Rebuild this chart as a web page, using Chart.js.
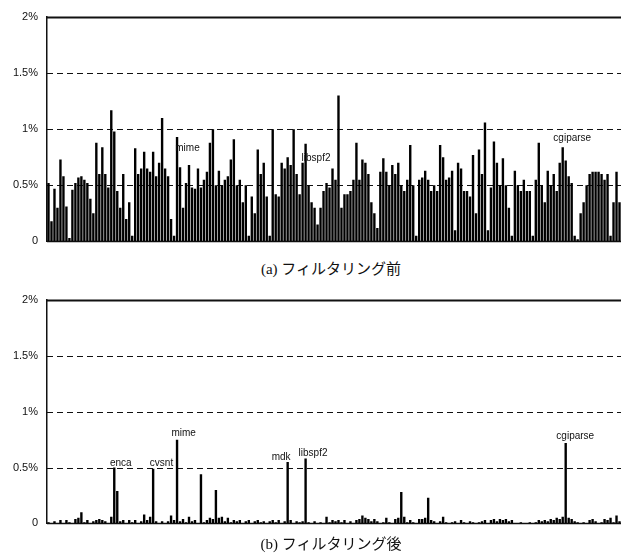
<!DOCTYPE html>
<html>
<head>
<meta charset="utf-8">
<script src="https://cdn.jsdelivr.net/npm/chart.js@4.4.0/dist/chart.umd.min.js"></script>
<style>
  body { margin: 0; background: #fff; width: 621px; height: 555px; position: relative; overflow: hidden; }
  .box { position: absolute; left: 0; width: 621px; }
  .cap { position: absolute; left: 0; width: 662px; text-align: center;
         font-family: "Liberation Serif", "Noto Sans CJK JP", serif; font-size: 15px; color: #111; }
</style>
</head>
<body>
<div class="box" style="top:0"><canvas id="chartA" width="621" height="257"></canvas></div>
<div class="cap" style="top:257px">(a) フィルタリング前</div>
<div class="box" style="top:283px"><canvas id="chartB" width="621" height="256"></canvas></div>
<div class="cap" style="top:532px">(b) フィルタリング後</div>
<script>
// y ticks (percent)
var tickValues = [0, 0.5, 1, 1.5, 2];
var tickLabels = ['0', '0.5%', '1%', '1.5%', '2%'];

// share of each package (%), before filtering
var before = [
  0.52, 0.18, 0.47, 0.30, 0.73, 0.58, 0.31, 0.03, 0.46, 0.52,
  0.57, 0.58, 0.55, 0.52, 0.38, 0.25, 0.88, 0.60, 0.84, 0.60,
  0.48, 1.17, 0.98, 0.45, 0.30, 0.60, 0.20, 0.35, 0.05, 0.83,
  0.60, 0.65, 0.80, 0.65, 0.62, 0.80, 0.58, 0.70, 1.10, 0.65,
  0.58, 0.20, 0.05, 0.93, 0.66, 0.30, 0.52, 0.68, 0.48, 0.47,
  0.65, 0.48, 0.55, 0.62, 0.88, 1.00, 0.50, 0.63, 0.50, 0.55,
  0.58, 0.73, 0.91, 0.50, 0.55, 0.35, 0.50, 0.05, 0.40, 0.25,
  0.82, 0.60, 0.70, 0.40, 0.05, 1.00, 0.42, 0.40, 0.70, 0.65,
  0.75, 0.68, 1.00, 0.60, 0.42, 0.70, 0.87, 0.50, 0.35, 0.30,
  0.15, 0.30, 0.45, 0.52, 0.48, 0.65, 0.55, 1.30, 0.30, 0.42,
  0.42, 0.45, 0.55, 0.88, 0.55, 0.73, 0.70, 0.60, 0.35, 0.25,
  0.12, 0.62, 0.74, 0.62, 0.50, 0.68, 0.60, 0.70, 0.50, 0.45,
  0.55, 0.86, 0.50, 0.05, 0.55, 0.57, 0.63, 0.55, 0.45, 0.50,
  0.45, 0.86, 0.75, 0.55, 0.57, 0.63, 0.10, 0.70, 0.65, 0.45,
  0.45, 0.40, 0.77, 0.25, 0.82, 0.60, 1.06, 0.10, 0.48, 0.89,
  0.70, 0.50, 0.74, 0.50, 0.30, 0.05, 0.63, 0.50, 0.45, 0.55,
  0.45, 0.45, 0.05, 0.55, 0.88, 0.50, 0.35, 0.63, 0.50, 0.60,
  0.45, 0.70, 0.84, 0.72, 0.58, 0.52, 0.05, 0.02, 0.25, 0.35,
  0.50, 0.60, 0.62, 0.62, 0.62, 0.60, 0.55, 0.60, 0.05, 0.35,
  0.62, 0.35
];

// share of each package (%), after filtering
var after = [
  0.01, 0.00, 0.02, 0.00, 0.03, 0.00, 0.03, 0.01, 0.00, 0.04,
  0.05, 0.10, 0.01, 0.03, 0.00, 0.02, 0.03, 0.04, 0.03, 0.02,
  0.00, 0.06, 0.50, 0.29, 0.02, 0.03, 0.00, 0.03, 0.01, 0.03,
  0.00, 0.02, 0.08, 0.03, 0.06, 0.49, 0.02, 0.00, 0.02, 0.00,
  0.02, 0.07, 0.03, 0.75, 0.02, 0.04, 0.01, 0.06, 0.02, 0.03,
  0.00, 0.44, 0.01, 0.03, 0.05, 0.04, 0.30, 0.05, 0.06, 0.02,
  0.05, 0.01, 0.03, 0.02, 0.03, 0.00, 0.02, 0.03, 0.00, 0.02,
  0.03, 0.01, 0.02, 0.00, 0.02, 0.03, 0.01, 0.03, 0.00, 0.02,
  0.55, 0.03, 0.00, 0.02, 0.01, 0.02, 0.58, 0.01, 0.00, 0.02,
  0.00, 0.01, 0.00, 0.06, 0.01, 0.03, 0.02, 0.03, 0.01, 0.03,
  0.00, 0.02, 0.00, 0.03, 0.04, 0.07, 0.05, 0.04, 0.02, 0.04,
  0.02, 0.00, 0.01, 0.05, 0.01, 0.00, 0.04, 0.05, 0.28, 0.06,
  0.01, 0.03, 0.01, 0.00, 0.04, 0.04, 0.05, 0.23, 0.03, 0.02,
  0.00, 0.02, 0.06, 0.01, 0.00, 0.01, 0.02, 0.00, 0.03, 0.01,
  0.00, 0.02, 0.01, 0.00, 0.01, 0.02, 0.03, 0.00, 0.03, 0.04,
  0.02, 0.04, 0.03, 0.04, 0.02, 0.03, 0.00, 0.00, 0.01, 0.00,
  0.00, 0.01, 0.00, 0.01, 0.03, 0.02, 0.03, 0.02, 0.04, 0.03,
  0.05, 0.04, 0.06, 0.72, 0.05, 0.04, 0.02, 0.01, 0.00, 0.01,
  0.00, 0.03, 0.04, 0.02, 0.00, 0.01, 0.04, 0.03, 0.05, 0.01,
  0.07, 0.02
];

var packages = before.map(function (v, i) { return 'pkg' + (i + 1); });

// name annotations: [name, category position, level in %]
var notesA = [['mime', 46.5, 0.83], ['libspf2', 89.5, 0.74], ['cgiparse', 175.2, 0.92]];
var notesB = [['enca', 24.2, 0.54], ['cvsnt', 37.8, 0.54], ['mime', 45.2, 0.81],
              ['mdk', 77.8, 0.59], ['libspf2', 88.5, 0.63], ['cgiparse', 176.2, 0.78]];

var framePlugin = {
  id: 'frame',
  beforeDatasetsDraw: function (chart) {
    var ctx = chart.ctx, a = chart.chartArea, ys = chart.scales.y;
    ctx.save();
    ctx.strokeStyle = '#111';
    tickValues.forEach(function (v) {
      var y = Math.round(ys.getPixelForValue(v)) + 0.5;
      ctx.beginPath();
      if (v === 0 || v === 2) { ctx.setLineDash([]); ctx.lineWidth = v === 2 ? 2 : 1.5; }
      else { ctx.setLineDash([6, 4]); ctx.lineWidth = 1.2; }
      ctx.moveTo(a.left, y);
      ctx.lineTo(a.right, y);
      ctx.stroke();
    });
    ctx.restore();
  },
  afterDatasetsDraw: function (chart) {
    var ctx = chart.ctx, xs = chart.scales.x, ys = chart.scales.y;
    var notes = chart.options.plugins.frame.notes;
    ctx.save();
    ctx.fillStyle = '#111';
    ctx.font = '10px "Liberation Sans", Arial, sans-serif';
    ctx.textAlign = 'center';
    ctx.textBaseline = 'middle';
    notes.forEach(function (n) {
      ctx.fillText(n[0], xs.getPixelForValue(n[1]), ys.getPixelForValue(n[2]));
    });
    ctx.restore();
  }
};

function makeChart(id, values, notes, padBottom) {
  return new Chart(document.getElementById(id).getContext('2d'), {
    type: 'bar',
    data: {
      labels: packages,
      datasets: [{
        data: values,
        backgroundColor: '#000',
        barPercentage: 1,
        categoryPercentage: 0.8
      }]
    },
    options: {
      responsive: false,
      animation: false,
      layout: { padding: { top: 17, bottom: padBottom, left: 0, right: 0 } },
      plugins: { legend: { display: false }, tooltip: { enabled: false }, frame: { notes: notes } },
      scales: {
        x: { display: false },
        y: {
          min: 0, max: 2,
          afterFit: function (s) { s.width = 47; },
          afterBuildTicks: function (s) { s.ticks = tickValues.map(function (v) { return { value: v }; }); },
          grid: { display: false, drawTicks: false },
          border: { display: true, color: '#111', width: 1.5 },
          ticks: {
            padding: 9,
            color: '#111',
            font: { family: '"Liberation Sans", Arial, sans-serif', size: 11 },
            callback: function (v) { return tickLabels[tickValues.indexOf(v)]; }
          }
        }
      }
    },
    plugins: [framePlugin]
  });
}

makeChart('chartA', before, notesA, 10);
makeChart('chartB', after, notesB, 11);
</script>
</body>
</html>
